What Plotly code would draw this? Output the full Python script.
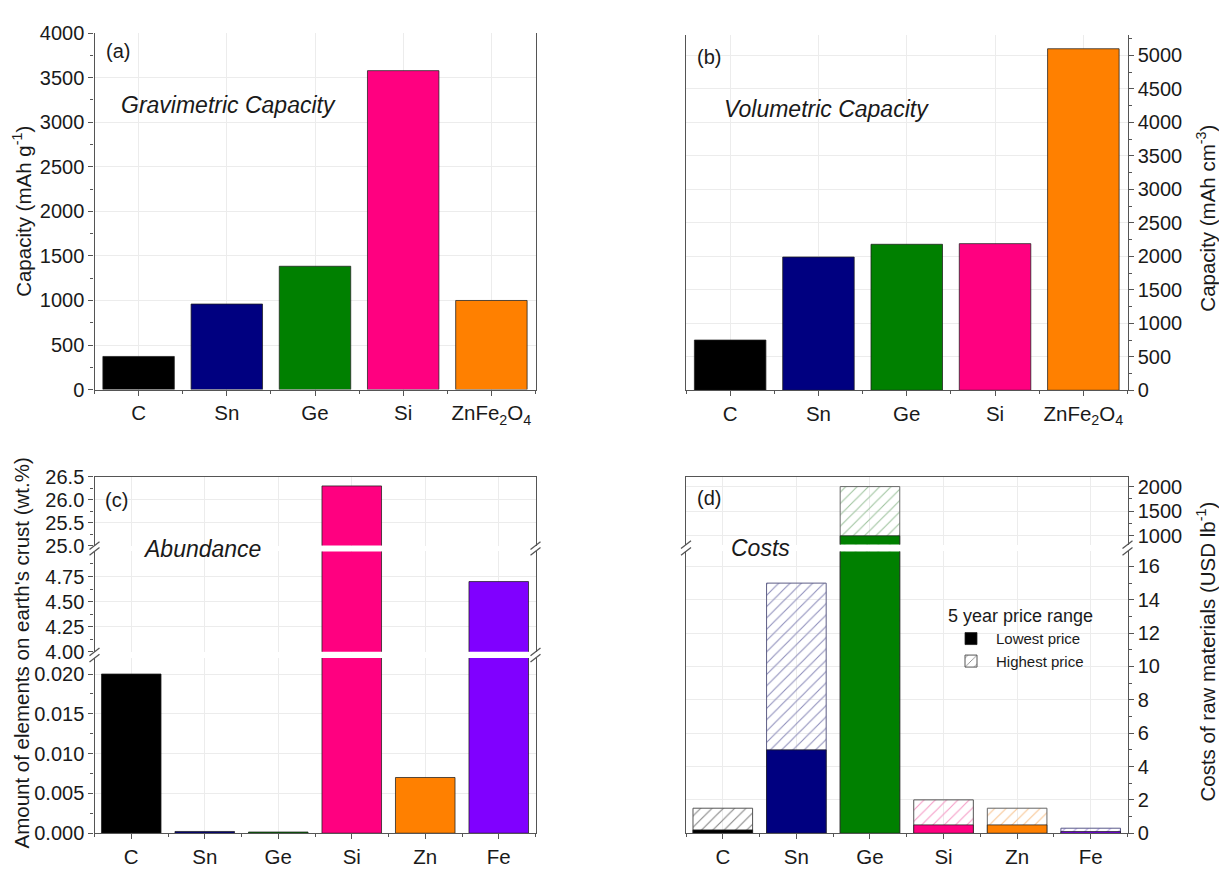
import plotly.graph_objects as go

# ---------------- data ----------------
anode_materials = ["C", "Sn", "Ge", "Si", "ZnFe<sub>2</sub>O<sub>4</sub>"]
gravimetric_capacity = [372, 960, 1384, 3579, 1000]      # mAh g-1
volumetric_capacity = [750, 1990, 2180, 2190, 5100]      # mAh cm-3
anode_colors = ["#000000", "#000080", "#008000", "#FF0080", "#FF8000"]

elements = ["C", "Sn", "Ge", "Si", "Zn", "Fe"]
crust_abundance = [0.020, 0.00022, 0.00015, 26.3, 0.007, 4.7]   # wt.%
element_colors = ["#000000", "#000080", "#008000", "#FF0080", "#FF8000", "#8000FF"]

price_lowest = [0.2, 5.0, 1000, 0.5, 0.5, 0.1]     # USD lb-1
price_highest = [1.5, 15.0, 2000, 2.0, 1.5, 0.3]    # USD lb-1
hatch_line_colors = ["#858585", "#9090bc", "#a0c4a0", "#f59cc6", "#f7c593", "#b09ae4"]
hatch_fill_colors = ["#ffffff", "#f5f5fb", "#f3f8f3", "#fff5fa", "#fffaf3", "#f6f2ff"]
hatch_edge_colors = ["#555555", "#5e5e86", "#6a6a6a", "#555555", "#666666", "#5a5a8a"]

# ---------------- geometry helpers ----------------
W, H = 1219, 880
FONT = "Liberation Sans, Arial, sans-serif"
TXT = "#1a1a1a"
FRAME = "#555555"
GRID = "#ececec"


def xd(left, right):
    return [left / W, right / W]


def yd(top, bottom):
    return [1 - bottom / H, 1 - top / H]


def px(x):
    return x / W


def py(y):
    return 1 - y / H


def cat_axis(domain, anchor, labels, show_ticks=True, side="bottom", line=True):
    n = len(labels)
    ax = dict(
        domain=domain, anchor=anchor, range=[-0.5, n - 0.5], side=side,
        tickmode="array", tickvals=list(range(n)),
        showgrid=True, gridcolor=GRID, gridwidth=1, zeroline=False,
        showline=line, linecolor=FRAME, linewidth=1.4, mirror=False,
        fixedrange=True,
    )
    if show_ticks:
        ax.update(ticktext=labels, ticks="outside", ticklen=5, tickwidth=1.2,
                  tickcolor=FRAME, showticklabels=True,
                  tickfont=dict(family=FONT, size=20.5, color=TXT),
                  minor=dict(tickmode="array",
                             tickvals=[i + 0.5 for i in range(-1, n)],
                             ticks="outside", ticklen=3, tickwidth=1.1,
                             tickcolor=FRAME, showgrid=False))
    else:
        ax.update(ticks="", showticklabels=False)
    return ax


def val_axis(domain, anchor, rng, tickvals, ticktext, minor_vals, side="left"):
    return dict(
        domain=domain, anchor=anchor, range=rng, side=side,
        tickmode="array", tickvals=tickvals, ticktext=ticktext,
        ticks="outside", ticklen=5, tickwidth=1.2, tickcolor=FRAME,
        minor=dict(tickmode="array", tickvals=minor_vals, ticks="outside",
                   ticklen=3, tickwidth=1.1, tickcolor=FRAME, showgrid=False),
        showgrid=True, gridcolor=GRID, gridwidth=1, zeroline=False,
        showline=True, linecolor=FRAME, linewidth=1.4, mirror=True,
        tickfont=dict(family=FONT, size=20, color=TXT), fixedrange=True,
    )


def frange(start, stop, step):
    out, k = [], 0
    while start + k * step <= stop + 1e-9:
        out.append(round(start + k * step, 6))
        k += 1
    return out


fig = go.Figure()
solid_edge = dict(color="rgba(30,30,30,0.75)", width=1)

# ---------------- (a) gravimetric capacity ----------------
fig.add_trace(go.Bar(x=list(range(len(anode_materials))), y=gravimetric_capacity,
                     marker=dict(color=anode_colors, line=solid_edge),
                     xaxis="x", yaxis="y", showlegend=False))

# ---------------- (b) volumetric capacity ----------------
fig.add_trace(go.Bar(x=list(range(len(anode_materials))), y=volumetric_capacity,
                     marker=dict(color=anode_colors, line=solid_edge),
                     xaxis="x2", yaxis="y2", showlegend=False))

# ---------------- (c) crustal abundance, three axis segments ----------------
for xa, ya in [("x3", "y3"), ("x4", "y4"), ("x5", "y5")]:
    fig.add_trace(go.Bar(x=list(range(len(elements))), y=crust_abundance,
                         marker=dict(color=element_colors, line=solid_edge),
                         xaxis=xa, yaxis=ya, showlegend=False))

# ---------------- (d) raw material costs, two axis segments ----------------
for xa, ya, legend in [("x6", "y6", True), ("x7", "y7", False)]:
    fig.add_trace(go.Bar(
        x=list(range(len(elements))), y=price_highest, name="Highest price",
        marker=dict(color=hatch_line_colors,
                    line=dict(color=hatch_edge_colors, width=1),
                    pattern=dict(shape="/", fgcolor=hatch_line_colors,
                                 bgcolor=hatch_fill_colors, size=8,
                                 solidity=0.14, fillmode="replace")),
        xaxis=xa, yaxis=ya, showlegend=legend, legendrank=2))
    fig.add_trace(go.Bar(
        x=list(range(len(elements))), y=price_lowest, name="Lowest price",
        marker=dict(color=element_colors, line=solid_edge),
        xaxis=xa, yaxis=ya, showlegend=legend, legendrank=1))

# ---------------- axes ----------------
AX_L = (94.5, 535.5)
AX_R = (686.0, 1127.5)

layout_axes = dict(
    xaxis=cat_axis(xd(*AX_L), "y", anode_materials),
    yaxis=val_axis(yd(22.7, 388.3), "x", [0, 4000],
                   frange(0, 4000, 500), [str(v) for v in range(0, 4001, 500)],
                   frange(250, 3750, 500)),
    xaxis2=cat_axis(xd(*AX_R), "y2", anode_materials),
    yaxis2=val_axis(yd(25, 389), "x2", [0, 5300],
                    frange(0, 5000, 500), [str(v) for v in range(0, 5001, 500)],
                    frange(250, 5250, 500), side="right"),
    # (c)
    xaxis3=cat_axis(xd(*AX_L), "y3", elements),
    xaxis4=cat_axis(xd(*AX_L), "y4", elements, show_ticks=False, line=False),
    xaxis5=cat_axis(xd(*AX_L), "y5", elements, show_ticks=False, side="top"),
    yaxis3=val_axis(yd(663.7, 843.3), "x3", [0, 0.022],
                    frange(0, 0.02, 0.005),
                    ["%.3f" % v for v in frange(0, 0.02, 0.005)],
                    frange(0.0025, 0.0225, 0.005)),
    yaxis4=val_axis(yd(554.3, 657.3), "x4", [4, 5],
                    frange(4, 4.75, 0.25),
                    ["%.2f" % v for v in frange(4, 4.75, 0.25)],
                    frange(4.125, 4.875, 0.25)),
    yaxis5=val_axis(yd(477.7, 548.3), "x5", [25, 26.5],
                    frange(25, 26.5, 0.5),
                    ["%.1f" % v for v in frange(25, 26.5, 0.5)],
                    frange(25.25, 26.25, 0.5)),
    # (d)
    xaxis6=cat_axis(xd(*AX_R), "y6", elements),
    xaxis7=cat_axis(xd(*AX_R), "y7", elements, show_ticks=False, side="top"),
    yaxis6=val_axis(yd(554.3, 843.3), "x6", [0, 16.9],
                    frange(0, 16, 2), [str(v) for v in range(0, 17, 2)],
                    frange(1, 15, 2), side="right"),
    yaxis7=val_axis(yd(477.7, 547.3), "x7", [820, 2200],
                    [1000, 1500, 2000], ["1000", "1500", "2000"],
                    [1250, 1750], side="right"),
)

# ---------------- axis-break marks ----------------
shapes = []


def break_mark(x, y_upper_end, y_lower_start):
    for y in (y_upper_end, y_lower_start):
        shapes.append(dict(type="line", xref="paper", yref="paper",
                           x0=px(x - 5), y0=py(y + 4), x1=px(x + 5), y1=py(y - 4),
                           line=dict(color=FRAME, width=1.3)))


for xx in AX_L:
    break_mark(xx, 548.3, 554.3)
    break_mark(xx, 657.3, 663.7)
for xx in AX_R:
    break_mark(xx, 547.3, 554.3)

# ---------------- text ----------------
annotations = []


def label(text, x, y, size, xanchor="left", angle=0):
    annotations.append(dict(text=text, x=px(x), y=py(y), xref="paper", yref="paper",
                            xanchor=xanchor, yanchor="middle", showarrow=False,
                            textangle=angle,
                            font=dict(family=FONT, size=size, color=TXT)))


label("(a)", 104, 41, 20)
label("<i>Gravimetric Capacity</i>", 119, 96, 23)
label("(b)", 695, 47, 20)
label("<i>Volumetric Capacity</i>", 722, 100, 23)
label("(c)", 103, 502, 20)
label("<i>Abundance</i>", 141, 552, 23)
label("(d)", 695, 499, 20)
label("<i>Costs</i>", 729, 551, 23)

label("Capacity (mAh g<sup>-1</sup>)", 22, 206, 20.5, xanchor="center", angle=-90)
label("Capacity (mAh cm<sup>-3</sup>)", 1206, 213, 20.5, xanchor="center", angle=-90)
label("Amount of elements on earth's crust (wt.%)", 22, 659, 20.5,
      xanchor="center", angle=-90)
label("Costs of raw materials (USD lb<sup>-1</sup>)", 1206, 657, 20.5,
      xanchor="center", angle=-90)

fig.update_layout(
    width=W, height=880,
    margin=dict(l=0, r=0, t=0, b=0),
    paper_bgcolor="white", plot_bgcolor="white",
    barmode="overlay", bargap=0.19,
    font=dict(family=FONT, color=TXT),
    showlegend=True,
    legend=dict(x=px(946), y=py(603), xanchor="left", yanchor="top",
                bgcolor="rgba(0,0,0,0)", itemwidth=40, traceorder="normal",
                title=dict(text="5 year price range",
                           font=dict(family=FONT, size=18, color=TXT)),
                font=dict(family=FONT, size=15, color=TXT),
                itemclick=False, itemdoubleclick=False),
    shapes=shapes, annotations=annotations,
    **layout_axes,
)

fig.write_html("out.html")
